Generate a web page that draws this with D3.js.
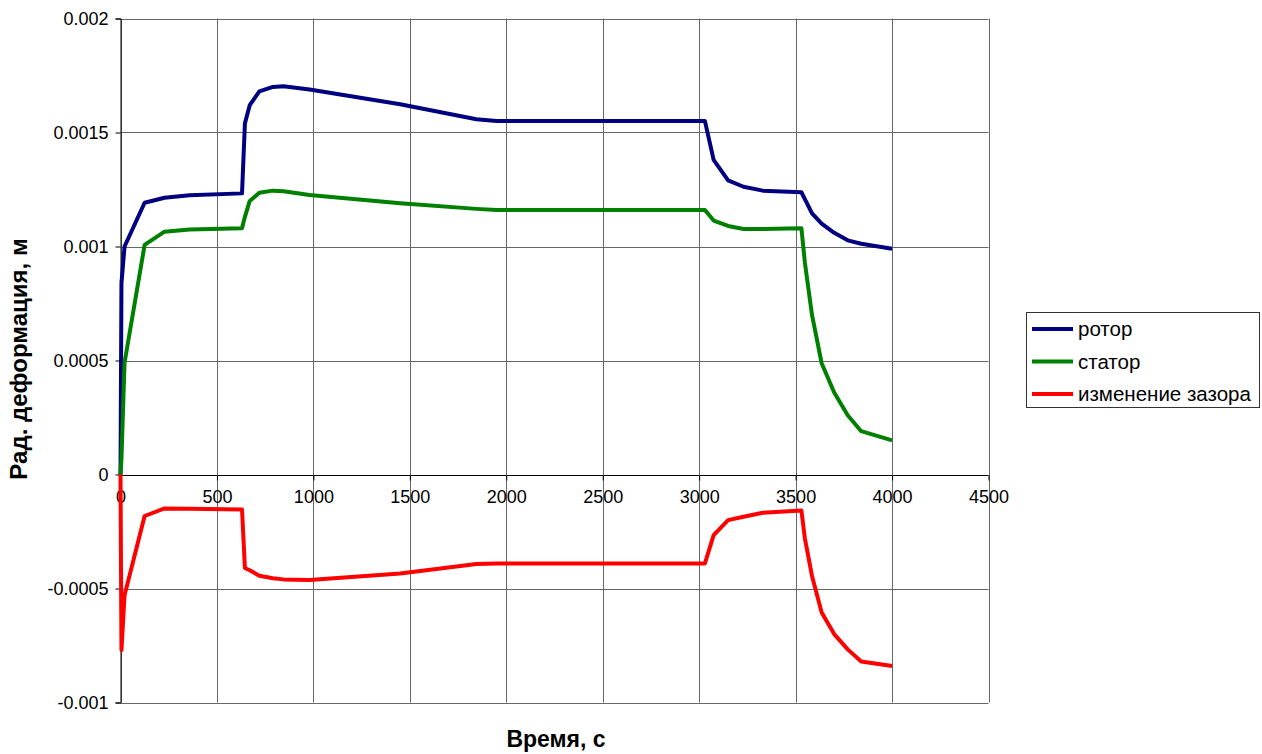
<!DOCTYPE html>
<html>
<head>
<meta charset="utf-8">
<script src="https://cdn.jsdelivr.net/npm/d3@7"></script>
<style>
  body { margin: 0; background: #ffffff; }
  svg { display: block; font-family: "Liberation Sans", Arial, sans-serif; }
</style>
</head>
<body>
<div id="chart"></div>
<script>
// Time points, s
var timeValues = [0, 5, 21, 125, 228, 358, 630, 645, 670, 720, 790, 845, 980, 1450, 1845, 1950,
  3030, 3075, 3150, 3230, 3330, 3530, 3548, 3585, 3635, 3700, 3770, 3840, 4000];

// Radial deformation, m
var rotorValues = [0, 0.00084, 0.00100, 0.001192, 0.001214, 0.001225, 0.001233, 0.00154, 0.00162, 0.00168, 0.0017, 0.001703, 0.001689, 0.001624, 0.001558, 0.00155,
  0.00155, 0.00138, 0.00129, 0.001262, 0.001245, 0.001238, 0.001208, 0.001145, 0.0011, 0.00106, 0.001027, 0.001012, 0.00099];
var statorValues = [0, 0.00007, 0.00049, 0.001007, 0.001065, 0.001075, 0.00108, 0.00113, 0.0012, 0.001236, 0.001245, 0.001242, 0.001226, 0.00119, 0.001165, 0.00116,
  0.00116, 0.001114, 0.00109, 0.001077, 0.001077, 0.00108, 0.00093, 0.0007, 0.000488, 0.00036, 0.00026, 0.00019, 0.00015];
var gapValues = [0, -0.00077, -0.00053, -0.000182, -0.000149, -0.00015, -0.000153, -0.00041, -0.00042, -0.000444, -0.000455, -0.00046, -0.000463, -0.000434, -0.000393, -0.00039,
  -0.00039, -0.000266, -0.0002, -0.000185, -0.000168, -0.000158, -0.00028, -0.000445, -0.000605, -0.0007, -0.000767, -0.00082, -0.00084];

var seriesNames = ["ротор", "статор", "изменение зазора"];
var seriesColors = ["#000080", "#008000", "#ff0000"];

var xTicks = [0, 500, 1000, 1500, 2000, 2500, 3000, 3500, 4000, 4500];
var yTicks = [-0.001, -0.0005, 0, 0.0005, 0.001, 0.0015, 0.002];
var yTickLabels = ["-0.001", "-0.0005", "0", "0.0005", "0.001", "0.0015", "0.002"];

// Chart size
var width = 1262;
var height = 754;
var plotLeft = 120.5;
var plotRight = 988.5;
var plotTop = 18.5;
var plotBottom = 702.5;

var svg = d3.select("#chart").append("svg")
  .attr("width", width)
  .attr("height", height);

var xScale = d3.scaleLinear().domain([0, 4500]).range([plotLeft, plotRight]);
var yScale = d3.scaleLinear().domain([-0.001, 0.002]).range([plotBottom, plotTop]);

// Grid lines
svg.append("g").selectAll("line").data(xTicks).enter().append("line")
  .attr("x1", function(d) { return Math.round(xScale(d)) + 0.5; })
  .attr("x2", function(d) { return Math.round(xScale(d)) + 0.5; })
  .attr("y1", plotTop)
  .attr("y2", plotBottom)
  .attr("stroke", "#666")
  .attr("stroke-width", 1);

svg.append("g").selectAll("line").data(yTicks).enter().append("line")
  .attr("x1", plotLeft)
  .attr("x2", plotRight)
  .attr("y1", function(d) { return Math.round(yScale(d)) + 0.5; })
  .attr("y2", function(d) { return Math.round(yScale(d)) + 0.5; })
  .attr("stroke", "#666")
  .attr("stroke-width", 1);

// Y axis (left)
var yAxis = d3.axisLeft(yScale)
  .tickValues(yTicks)
  .tickSize(5)
  .tickPadding(7)
  .tickFormat(function(d, i) { return yTickLabels[i]; });
var yAxisGroup = svg.append("g")
  .attr("transform", "translate(" + plotLeft + ",0)")
  .call(yAxis);
yAxisGroup.selectAll("text")
  .attr("font-size", "18px")
  .attr("font-family", "Liberation Sans, Arial, sans-serif")
  .attr("fill", "#000");
yAxisGroup.selectAll("line, path").attr("stroke", "#000");

// X axis crosses at zero
var xAxis = d3.axisBottom(xScale)
  .tickValues(xTicks)
  .tickSize(5)
  .tickPadding(10)
  .tickFormat(d3.format("d"));
var xAxisGroup = svg.append("g")
  .attr("transform", "translate(0," + (Math.round(yScale(0)) + 0.5) + ")")
  .call(xAxis);
xAxisGroup.selectAll("text")
  .attr("font-size", "18px")
  .attr("font-family", "Liberation Sans, Arial, sans-serif")
  .attr("fill", "#000");
xAxisGroup.selectAll("line, path").attr("stroke", "#000");
xAxisGroup.select(".domain").attr("d", "M" + plotLeft + ",0H" + plotRight);

// Data lines
var allSeries = [rotorValues, statorValues, gapValues];
var line = d3.line()
  .x(function(d, i) { return xScale(timeValues[i]); })
  .y(function(d) { return yScale(d); });

svg.append("g").selectAll("path").data(allSeries).enter().append("path")
  .attr("d", function(d) { return line(d); })
  .attr("fill", "none")
  .attr("stroke", function(d, i) { return seriesColors[i]; })
  .attr("stroke-width", 4)
  .attr("stroke-linejoin", "round");

// Axis titles
svg.append("text")
  .attr("transform", "translate(27,359) rotate(-90)")
  .attr("text-anchor", "middle")
  .attr("font-size", "24px")
  .attr("font-weight", "bold")
  .attr("fill", "#000")
  .text("Рад. деформация, м");

svg.append("text")
  .attr("x", 556)
  .attr("y", 747)
  .attr("text-anchor", "middle")
  .attr("font-size", "23px")
  .attr("font-weight", "bold")
  .attr("fill", "#000")
  .text("Время, с");

// Legend
var legend = svg.append("g");
legend.append("rect")
  .attr("x", 1026.5)
  .attr("y", 312.5)
  .attr("width", 233)
  .attr("height", 95)
  .attr("fill", "#fff")
  .attr("stroke", "#333")
  .attr("stroke-width", 1);

var rows = legend.selectAll("g.row").data(seriesNames).enter().append("g")
  .attr("class", "row")
  .attr("transform", function(d, i) { return "translate(0," + (329 + i * 32.5) + ")"; });
rows.append("line")
  .attr("x1", 1032)
  .attr("x2", 1073)
  .attr("y1", 0)
  .attr("y2", 0)
  .attr("stroke", function(d, i) { return seriesColors[i]; })
  .attr("stroke-width", 4);
rows.append("text")
  .attr("x", 1078)
  .attr("y", 7)
  .attr("font-size", "20.5px")
  .attr("fill", "#000")
  .text(function(d) { return d; });
</script>
</body>
</html>
